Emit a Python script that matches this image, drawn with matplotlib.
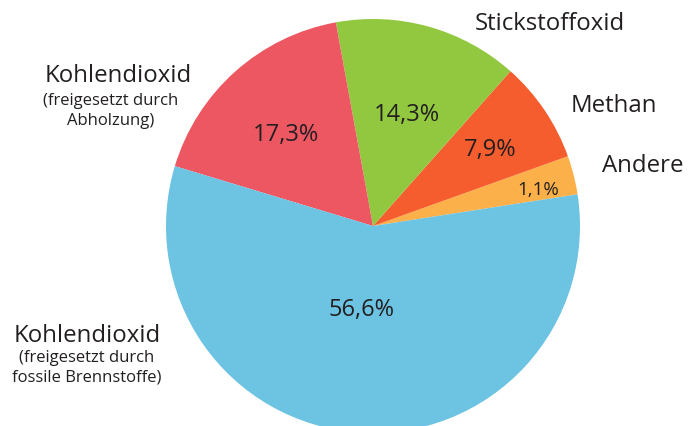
import matplotlib
matplotlib.use("Agg")
import matplotlib.pyplot as plt

# Data (counterclockwise from the right)
categories = ["Andere", "Methan", "Stickstoffoxid",
              "Kohlendioxid (Abholzung)", "Kohlendioxid (fossile Brennstoffe)"]
values = [3.0, 7.9, 14.3, 17.3, 56.6]
pct_labels = ["1,1%", "7,9%", "14,3%", "17,3%", "56,6%"]
colors = ["#FBB04A", "#F55D2E", "#92C840", "#EC5762", "#6CC3E2"]

W, H = 698, 427
fig = plt.figure(figsize=(W / 100, H / 100), dpi=100)
ax = fig.add_axes([0, 0, 1, 1])

cx, cy, r = 373, H - 227, 207
wedges, _ = ax.pie(values, colors=colors, startangle=8.8, counterclock=True,
                   center=(cx, cy), radius=r,
                   wedgeprops=dict(linewidth=0))
ax.set_xlim(0, W)
ax.set_ylim(0, H)
ax.set_aspect("equal")
ax.axis("off")

font = "Open Sans"
tc = "#231F20"

def T(x, y, s, size, ha="center"):
    ax.text(x, H - y, s, fontsize=size, ha=ha, va="baseline",
            color=tc, family=font)

# percentage labels (pixel positions of baselines)
pct_pos = [(538, 195, 13.5), (490, 156, 17), (407, 121, 17),
           (286, 141, 17), (362, 316, 17)]
for (x, y, s), lab in zip(pct_pos, pct_labels):
    T(x, y, lab, s)

# category labels
T(550, 30, "Stickstoffoxid", 17.3)
T(614, 112, "Methan", 17.3)
T(643, 172, "Andere", 17.3)

T(118, 82, "Kohlendioxid", 17.3)
T(111, 105, "(freigesetzt durch", 12)
T(111, 125, "Abholzung)", 12)

T(87, 342, "Kohlendioxid", 17.3)
T(87, 362, "(freigesetzt durch", 12)
T(87, 382, "fossile Brennstoffe)", 12)

fig.savefig("out.png", dpi=100)
